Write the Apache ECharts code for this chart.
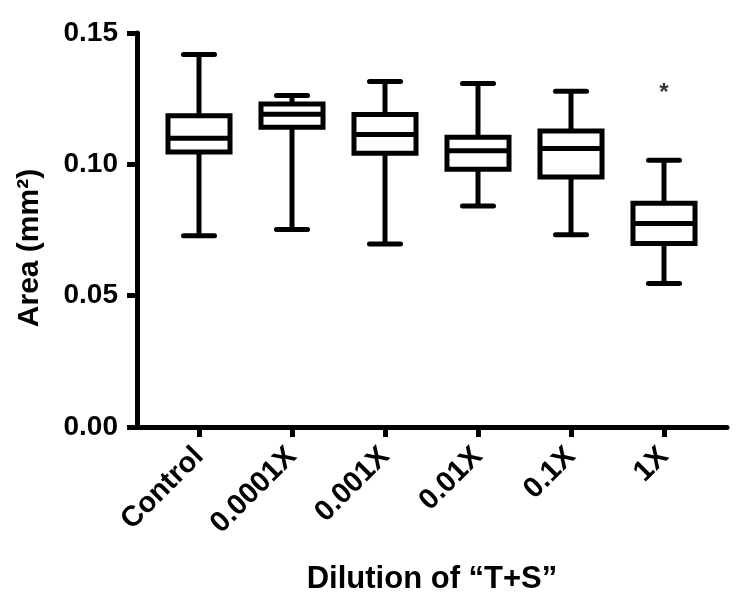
<!DOCTYPE html>
<html>
<head>
<meta charset="utf-8">
<script src="https://cdn.jsdelivr.net/npm/echarts@6/dist/echarts.min.js"></script>
<style>
html,body{margin:0;padding:0;background:#fff;}
#chart{width:740px;height:616px;}
</style>
</head>
<body>
<div id="chart"></div>
<script>
// categories
var categories = ['Control', '0.0001X', '0.001X', '0.01X', '0.1X', '1X'];
// five-number summaries
var boxMin    = [0.0728, 0.0752, 0.0697, 0.0841, 0.0732, 0.0546];
var boxQ1     = [0.1047, 0.1141, 0.1042, 0.0981, 0.0952, 0.0699];
var boxMedian = [0.1099, 0.1191, 0.1114, 0.1052, 0.1060, 0.0775];
var boxQ3     = [0.1185, 0.1230, 0.1190, 0.1103, 0.1127, 0.0852];
var boxMax    = [0.1418, 0.1262, 0.1315, 0.1308, 0.1278, 0.1016];
// significance marks
var sigCategories = ['1X'];
var sigValues = [0.1272];
var sigText = ['*'];
// y ticks
var yMin = 0, yMax = 0.15, yStep = 0.05;

var boxData = categories.map(function (c, i) {
  return [i, boxMin[i], boxQ1[i], boxMedian[i], boxQ3[i], boxMax[i]];
});
var sigData = sigCategories.map(function (c, i) { return [c, sigValues[i], sigText[i]]; });

var FONT = "'Liberation Sans', Arial, Helvetica, sans-serif";
var BOX_RATIO = 0.667;   // box width relative to category band
var LW = 5;

function renderBox(params, api) {
  var idx = api.value(0);
  var band = api.size([1, 0])[0];
  var bw = band * BOX_RATIO;
  var cap = bw / 2;
  var pMin = api.coord([idx, api.value(1)]);
  var pQ1 = api.coord([idx, api.value(2)]);
  var pMed = api.coord([idx, api.value(3)]);
  var pQ3 = api.coord([idx, api.value(4)]);
  var pMax = api.coord([idx, api.value(5)]);
  var cx = pMed[0];
  var lineStyle = {stroke: '#000', lineWidth: LW, lineCap: 'butt', fill: null};
  var capStyle = {stroke: '#000', lineWidth: LW, lineCap: 'round', fill: null};
  return {
    type: 'group',
    children: [
      {type: 'line', shape: {x1: cx, y1: pQ3[1], x2: cx, y2: pMax[1]}, style: lineStyle},
      {type: 'line', shape: {x1: cx, y1: pQ1[1], x2: cx, y2: pMin[1]}, style: lineStyle},
      {type: 'line', shape: {x1: cx - cap / 2, y1: pMax[1], x2: cx + cap / 2, y2: pMax[1]}, style: capStyle},
      {type: 'line', shape: {x1: cx - cap / 2, y1: pMin[1], x2: cx + cap / 2, y2: pMin[1]}, style: capStyle},
      {type: 'rect', shape: {x: cx - bw / 2, y: pQ3[1], width: bw, height: pQ1[1] - pQ3[1]},
        style: {fill: '#fff', stroke: '#000', lineWidth: LW, lineJoin: 'miter'}},
      {type: 'line', shape: {x1: cx - bw / 2, y1: pMed[1], x2: cx + bw / 2, y2: pMed[1]}, style: lineStyle}
    ]
  };
}

var chart = echarts.init(document.getElementById('chart'), null, {renderer: 'canvas'});
var option = {
  backgroundColor: '#ffffff',
  animation: false,
  grid: [
    {left: 152.5, right: 29.5, top: 33, bottom: 189},
    {left: 137, right: 13, top: 33, bottom: 189}
  ],
  xAxis: [
    {
      gridIndex: 0, type: 'category', data: categories,
      axisLine: {show: false},
      axisTick: {show: true, alignWithLabel: true, length: 10, lineStyle: {color: '#000', width: 5}},
      axisLabel: {rotate: 45, margin: 25, color: '#000', fontSize: 29, fontWeight: 'bold', fontFamily: FONT},
      splitLine: {show: false}
    },
    {
      gridIndex: 1, type: 'value', min: 0, max: 1,
      axisLine: {show: true, lineStyle: {color: '#000', width: 5}},
      axisTick: {show: false}, axisLabel: {show: false}, splitLine: {show: false},
      name: 'Dilution of \u201cT+S\u201d', nameLocation: 'middle', nameGap: 137,
      nameTextStyle: {color: '#000', fontSize: 31, fontWeight: 'bold', fontFamily: FONT}
    }
  ],
  yAxis: [
    {
      gridIndex: 0, type: 'value', min: yMin, max: yMax, interval: yStep,
      show: false
    },
    {
      gridIndex: 1, type: 'value', min: yMin, max: yMax, interval: yStep,
      axisLine: {show: true, lineStyle: {color: '#000', width: 5}},
      axisTick: {show: true, length: 10, lineStyle: {color: '#000', width: 5}},
      axisLabel: {margin: 19, color: '#000', fontSize: 28, fontWeight: 'bold', fontFamily: FONT,
        formatter: function (v) { return v.toFixed(2); }},
      splitLine: {show: false},
      name: 'Area (mm\u00b2)', nameLocation: 'middle', nameGap: 92, nameRotate: 90,
      nameTextStyle: {color: '#000', fontSize: 30, fontWeight: 'bold', fontFamily: FONT, padding: [0, 36, 0, 0]}
    }
  ],
  series: [
    {
      type: 'custom', xAxisIndex: 0, yAxisIndex: 0,
      data: boxData,
      encode: {x: 0, y: [1, 2, 3, 4, 5]},
      renderItem: renderBox,
      silent: true
    },
    {
      type: 'scatter', xAxisIndex: 0, yAxisIndex: 0,
      data: sigData, symbolSize: 0,
      label: {show: true, position: 'inside', formatter: function (p) { return p.data[2]; },
        color: '#000', fontSize: 24, fontWeight: 'bold', fontFamily: FONT},
      silent: true
    }
  ]
};
chart.setOption(option);
</script>
</body>
</html>
